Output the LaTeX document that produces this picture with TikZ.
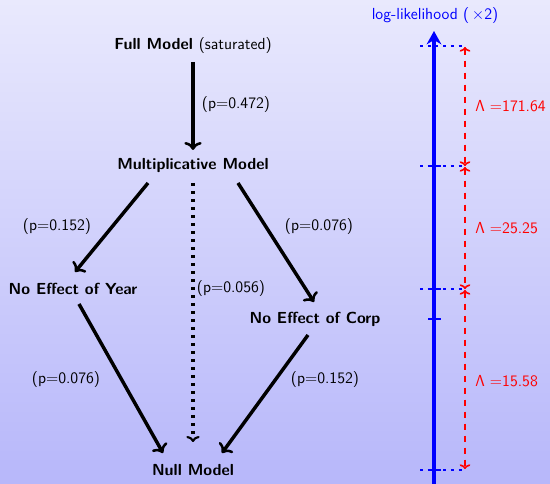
\documentclass[tikz,border=0pt]{standalone}
\usepackage{fontspec}
\usetikzlibrary{arrows.meta}
\definecolor{bgtop}{RGB}{233,233,253}
\definecolor{bgbot}{RGB}{183,183,250}
\tikzset{
  model/.style={font=\sffamily\bfseries\fontsize{12}{14}\selectfont, inner sep=1pt},
  plab/.style={font=\sffamily\fontsize{12}{14}\selectfont, inner sep=1pt},
  flow/.style={line width=2.6pt, -{To[length=6pt,width=13pt,line width=1.9pt]}},
  dotflow/.style={line width=2.6pt, dash pattern=on 2.6pt off 3.4pt, -{To[length=4.5pt,width=10pt,line width=1.6pt]}},
  axis/.style={blue, line width=2.4pt, -{Stealth[length=10pt,width=11pt]}},
  lvl/.style={blue, line width=2.2pt, dash pattern=on 2.2pt off 3.6pt},
  tick/.style={blue, line width=2.2pt},
  lam/.style={red, line width=1.4pt, dash pattern=on 5pt off 4pt, {To[length=3.5pt,width=8pt,line width=1.2pt]}-{To[length=3.5pt,width=8pt,line width=1.2pt]}},
  lamlab/.style={red, font=\sffamily\fontsize{12}{14}\selectfont, anchor=west, inner sep=0pt}
}
\begin{document}
\begin{tikzpicture}[x=0.75pt,y=-0.75pt]
\useasboundingbox (0,0) rectangle (550,484);
\shade[top color=bgtop, bottom color=bgbot] (0,0) rectangle (550,484);

% models
\node[model] (full) at (193,46) {Full Model \mdseries(saturated)};
\node[model] (mult) at (193,166) {Multiplicative Model};
\node[model] (year) at (73,289) {No Effect of Year};
\node[model] (corp) at (315,319) {No Effect of Corp};
\node[model] (null) at (193,470) {Null Model};

% connector endpoints
\coordinate (fa) at (193,62);  \coordinate (fb) at (193,150);
\coordinate (ma) at (148,183); \coordinate (mb) at (75,272);
\coordinate (mc) at (238,183); \coordinate (md) at (314,302);
\coordinate (me) at (193,183); \coordinate (mf) at (193,442);
\coordinate (ya) at (79,304);  \coordinate (yb) at (163,453);
\coordinate (ca) at (308,335); \coordinate (cb) at (222,453);

\draw[flow] (fa) -- (fb);
\draw[flow] (ma) -- (mb);
\draw[flow] (mc) -- (md);
\draw[dotflow] (me) -- (mf);
\draw[flow] (ya) -- (yb);
\draw[flow] (ca) -- (cb);

\node[plab] (p1) at (236,105) {(p=0.472)};
\node[plab] (p2) at (57,227) {(p=0.152)};
\node[plab] (p3) at (319,227) {(p=0.076)};
\node[plab] (p4) at (231,289) {(p=0.056)};
\node[plab] (p5) at (66,380) {(p=0.076)};
\node[plab] (p6) at (325,380) {(p=0.152)};

% likelihood axis
\node[blue, font=\sffamily\fontsize{12}{14}\selectfont] (ll) at (435,16) {log-likelihood (\,$\times$2)};
\coordinate (ax0) at (434,486);
\coordinate (ax1) at (434,31);
\draw[axis] (ax0) -- (ax1);

\coordinate (l1a) at (420,46);  \coordinate (l1b) at (465,46);
\coordinate (l2a) at (420,166); \coordinate (l2b) at (465,166);
\coordinate (l3a) at (420,289); \coordinate (l3b) at (465,289);
\coordinate (l4a) at (420,470); \coordinate (l4b) at (465,470);
\draw[lvl] (l1a) -- (l1b);
\draw[lvl] (l2a) -- (l2b);
\draw[lvl] (l3a) -- (l3b);
\draw[lvl] (l4a) -- (l4b);

\coordinate (t2a) at (428,166); \coordinate (t2b) at (441,166);
\coordinate (t3a) at (428,289); \coordinate (t3b) at (441,289);
\coordinate (t5a) at (428,319); \coordinate (t5b) at (441,319);
\coordinate (t4a) at (428,470); \coordinate (t4b) at (441,470);
\draw[tick] (t2a) -- (t2b);
\draw[tick] (t3a) -- (t3b);
\draw[tick] (t5a) -- (t5b);
\draw[tick] (t4a) -- (t4b);

\coordinate (r1a) at (465,47);  \coordinate (r1b) at (465,166);
\coordinate (r2a) at (465,167); \coordinate (r2b) at (465,289);
\coordinate (r3a) at (465,290); \coordinate (r3b) at (465,469);
\draw[lam] (r1a) -- (r1b);
\draw[lam] (r2a) -- (r2b);
\draw[lam] (r3a) -- (r3b);

\node[lamlab] (L1) at (475,106) {Λ $=$171.64};
\node[lamlab] (L2) at (475,228) {Λ $=$25.25};
\node[lamlab] (L3) at (475,381) {Λ $=$15.58};
\end{tikzpicture}
\end{document}
